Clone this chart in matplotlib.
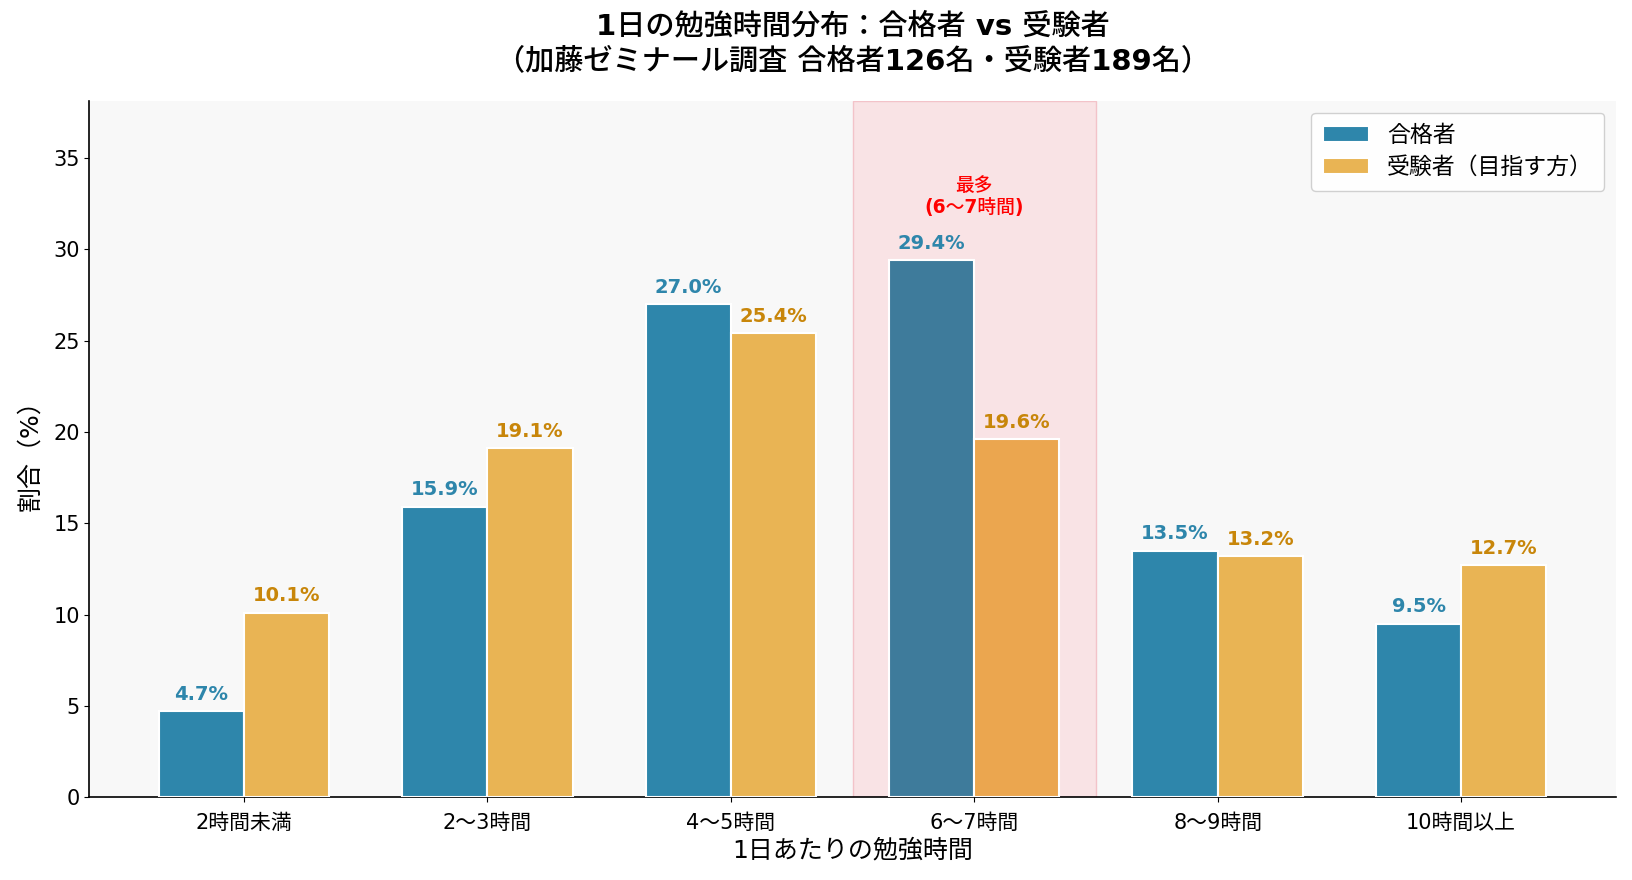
import matplotlib
matplotlib.use("Agg")
import matplotlib.pyplot as plt
from matplotlib.patches import Patch
import numpy as np

plt.rcParams['font.family'] = ['DejaVu Sans', 'Noto Sans CJK JP']

categories = ["2時間未満", "2〜3時間", "4〜5時間", "6〜7時間", "8〜9時間", "10時間以上"]
passed = [4.7, 15.9, 27.0, 29.4, 13.5, 9.5]
examinees = [10.1, 19.1, 25.4, 19.6, 13.2, 12.7]
series_names = ["合格者", "受験者（目指す方）"]
highlight_idx = 3

blue = "#2e86ab"
orange = "#e9b454"
blue_hi = "#3e7b9b"
orange_hi = "#eba64f"
blue_txt = "#2e86ab"
orange_txt = "#c8860a"

BOLDISH = 560  # DejaVu resolves to Bold; CJK family resolves to a lighter weight if available

fig = plt.figure(figsize=(16.32, 8.8), dpi=100)
ax = fig.add_axes([0.0548, 0.094, 0.9352, 0.791])
ax.set_facecolor("#f8f8f8")

x = np.arange(len(categories))
w = 0.35
bcols = [blue_hi if i == highlight_idx else blue for i in range(len(x))]
ocols = [orange_hi if i == highlight_idx else orange for i in range(len(x))]
b1 = ax.bar(x - w / 2, passed, w, color=bcols, edgecolor="white", linewidth=1.5, label=series_names[0], zorder=3)
b2 = ax.bar(x + w / 2, examinees, w, color=ocols, edgecolor="white", linewidth=1.5, label=series_names[1], zorder=3)

ax.axvspan(highlight_idx - 0.5, highlight_idx + 0.5, facecolor="#f9e3e5", edgecolor="#f3c3c9", linewidth=1.0, zorder=1)

for xi, v in zip(x, passed):
    ax.text(xi - w / 2, v + 0.4, f"{v:.1f}%", ha="center", va="bottom", fontsize=14,
            fontweight="bold", color=blue_txt, zorder=4)
for xi, v in zip(x, examinees):
    ax.text(xi + w / 2, v + 0.4, f"{v:.1f}%", ha="center", va="bottom", fontsize=14,
            fontweight="bold", color=orange_txt, zorder=4)

ax.text(highlight_idx, 32.9, "最多\n(6〜7時間)", ha="center", va="center", fontsize=13.5,
        fontweight=BOLDISH, color="red", zorder=4, linespacing=1.2)

ax.set_xticks(x)
ax.set_xticklabels(categories, fontsize=15)
ax.tick_params(axis="x", pad=8)
ax.tick_params(axis="y", labelsize=15)
ax.set_ylim(0, 38.1)
ax.set_xlim(-0.635, 5.635)
ax.set_xlabel("1日あたりの勉強時間", fontsize=18, labelpad=4)
ax.set_ylabel("割合（%）", fontsize=18, labelpad=8)
ax.set_title("1日の勉強時間分布：合格者 vs 受験者\n（加藤ゼミナール調査 合格者126名・受験者189名）",
             fontsize=21, fontweight=BOLDISH, pad=23, linespacing=1.3)

ax.spines["top"].set_visible(False)
ax.spines["right"].set_visible(False)
ax.spines["left"].set_linewidth(1.2)
ax.spines["bottom"].set_linewidth(1.2)

handles = [Patch(facecolor=blue, edgecolor="white", linewidth=1.5),
           Patch(facecolor=orange, edgecolor="white", linewidth=1.5)]
leg = ax.legend(handles=handles, labels=series_names,
                loc="upper right", fontsize=16.5, framealpha=0.9, borderpad=0.5,
                handlelength=2.0, labelspacing=0.4)

fig.savefig("out.png", dpi=100)
